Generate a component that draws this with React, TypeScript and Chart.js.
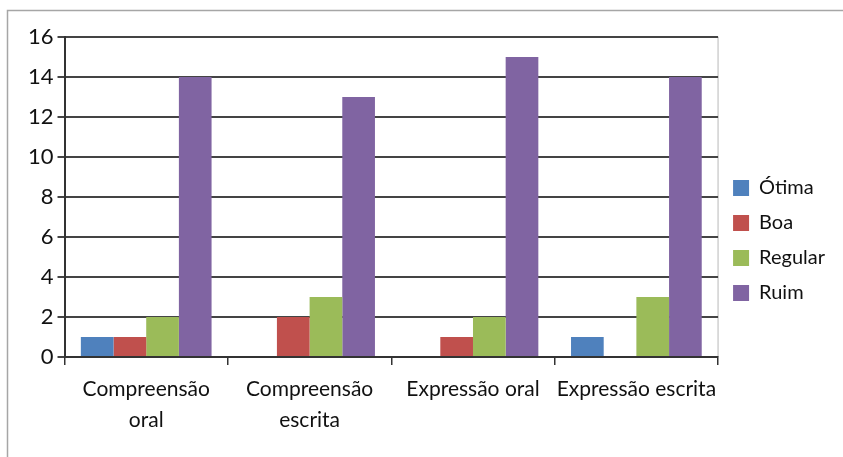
import React, { useEffect, useRef } from "react";
import { Chart, registerables } from "chart.js";

Chart.register(...registerables);

const categories: (string | string[])[] = [
  ["Compreensão", "oral"],
  ["Compreensão", "escrita"],
  "Expressão oral",
  "Expressão escrita",
];
const seriesNames = ["Ótima", "Boa", "Regular", "Ruim"];
const otima = [1, 0, 0, 1];
const boa = [1, 2, 1, 0];
const regular = [2, 3, 2, 3];
const ruim = [14, 13, 15, 14];
const colors = ["#4F81BD", "#C0504D", "#9BBB59", "#8064A2"];
const yTicks = [0, 2, 4, 6, 8, 10, 12, 14, 16];

const FONT = "Lato, 'Open Sans', sans-serif";

const framePlugin = {
  id: "frame",
  beforeDraw(chart: any) {
    const { ctx, chartArea } = chart;
    ctx.save();
    ctx.strokeStyle = "#a6a6a6";
    ctx.lineWidth = 1.5;
    ctx.beginPath();
    ctx.moveTo(7.5, chart.height);
    ctx.lineTo(7.5, 10.5);
    ctx.lineTo(chart.width, 10.5);
    ctx.stroke();
    ctx.strokeStyle = "#d0d0d0";
    ctx.lineWidth = 1.5;
    ctx.beginPath();
    ctx.moveTo(chartArea.right, chartArea.top);
    ctx.lineTo(chartArea.right, chartArea.bottom);
    ctx.stroke();
    ctx.restore();
  },
};

export default function App() {
  const ref = useRef<HTMLCanvasElement | null>(null);
  useEffect(() => {
    document.body.style.margin = "0";
    const values = [otima, boa, regular, ruim];
    const chart = new Chart(ref.current as HTMLCanvasElement, {
      type: "bar",
      data: {
        labels: categories,
        datasets: seriesNames.map((name, i) => ({
          label: name,
          data: values[i],
          backgroundColor: colors[i],
          borderWidth: 0,
          categoryPercentage: 0.8,
          barPercentage: 1,
        })),
      },
      options: {
        responsive: false,
        animation: false,
        layout: { padding: { top: 37, left: 24, right: 8, bottom: 13 } },
        plugins: {
          tooltip: { enabled: false },
          legend: {
            position: "right",
            labels: {
              boxWidth: 16,
              boxHeight: 16,
              padding: 15,
              color: "#111",
              font: { family: FONT, size: 20 },
            },
          },
        },
        scales: {
          x: {
            grid: {
              display: true,
              drawOnChartArea: false,
              drawTicks: true,
              tickLength: 8,
              color: "#333",
              lineWidth: 1.5,
              offset: true,
            },
            border: { display: true, color: "#333", width: 2 },
            ticks: {
              color: "#111",
              padding: 8,
              maxRotation: 0,
              font: { family: FONT, size: 21, lineHeight: 1.5 },
            },
          },
          y: {
            min: 0,
            max: 16,
            afterBuildTicks(axis: any) {
              axis.ticks = yTicks.map((v) => ({ value: v }));
            },
            grid: {
              color: "#444",
              lineWidth: 2,
              tickLength: 7,
            },
            border: { display: true, color: "#333", width: 2 },
            ticks: {
              color: "#111",
              padding: 4,
              font: { family: FONT, size: 22 },
            },
          },
        },
      },
      plugins: [framePlugin],
    });
    return () => chart.destroy();
  }, []);
  return (
    <div style={{ width: 843, height: 457, background: "#fff" }}>
      <canvas ref={ref} width={843} height={457} />
    </div>
  );
}
